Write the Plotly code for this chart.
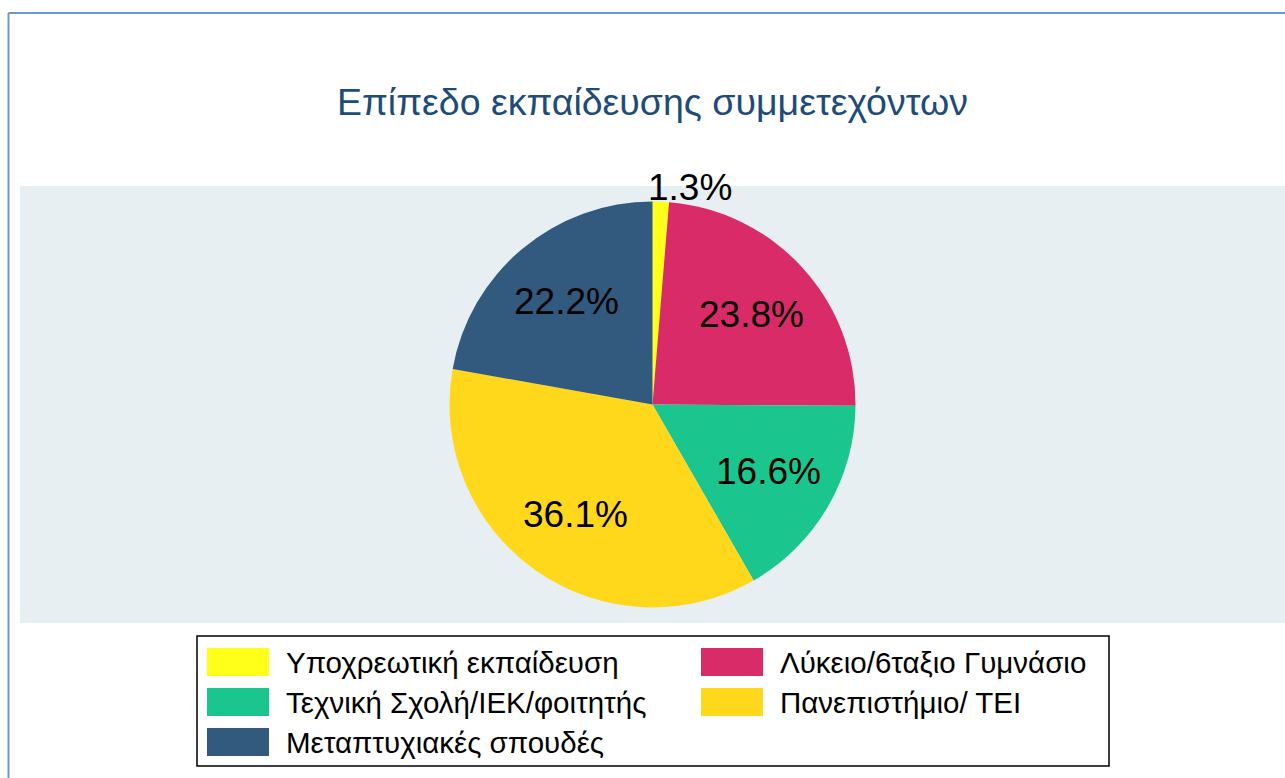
import math
import plotly.graph_objects as go

# ---- data ----
labels = ["Υποχρεωτική εκπαίδευση", "Λύκειο/6ταξιο Γυμνάσιο",
          "Τεχνική Σχολή/ΙΕΚ/φοιτητής", "Πανεπιστήμιο/ ΤΕΙ",
          "Μεταπτυχιακές σπουδές"]
values = [1.3, 23.8, 16.6, 36.1, 22.2]
colors = ["#FFFF1A", "#D92B68", "#1BC68E", "#FFD81C", "#32597E"]
title_text = "Επίπεδο εκπαίδευσης συμμετεχόντων"

W, H = 1285, 778
ML, MR, MT, MB = 20, 0, 186, 155
PW, PH = W - ML - MR, H - MT - MB

def px(x):
    return (x - ML) / PW

def py(y):
    return (H - MB - y) / PH

FONT = "Liberation Sans, Arial, sans-serif"

r_px = 203
pad = (PH / 2 - r_px) / PH
cx_px, cy_px = ML + PW / 2, MT + PH / 2

fig = go.Figure(go.Pie(
    labels=labels, values=values, sort=False, direction="clockwise",
    rotation=0,
    marker=dict(colors=colors, line=dict(width=0)),
    textinfo="none",
    showlegend=False, hoverinfo="label+percent",
    domain=dict(x=[0, 1], y=[pad, 1 - pad]),
))

shapes = []
# plot-region band
shapes.append(dict(type="rect", xref="paper", yref="paper", x0=0, x1=1, y0=0, y1=1,
                   fillcolor="#E8EFF2", line=dict(width=0), layer="below"))
# outer frame (left and top edges)
shapes.append(dict(type="line", xref="paper", yref="paper", x0=px(8.5), x1=px(8.5),
                   y0=py(13), y1=py(790), line=dict(color="#6F98D2", width=2)))
shapes.append(dict(type="line", xref="paper", yref="paper", x0=px(8.5), x1=px(1300),
                   y0=py(13), y1=py(13), line=dict(color="#6F98D2", width=2)))
# legend box
shapes.append(dict(type="rect", xref="paper", yref="paper", x0=px(197), x1=px(1109),
                   y0=py(636), y1=py(766), line=dict(color="black", width=1.5),
                   fillcolor="white"))

annotations = []
# slice value labels, placed along each slice's mid-angle
total = sum(values)
cum = 0.0
for v in values:
    mid = (cum + v / 2) / total * 2 * math.pi
    cum += v
    frac = v / total
    if frac < 0.05:
        rr = r_px * 1.07
        xa, xs = "left", -15
    else:
        rr = r_px * 0.66
        xa, xs = "center", 0
    lx = cx_px + rr * math.sin(mid)
    ly = cy_px - rr * math.cos(mid)
    annotations.append(dict(text=f"{v:.1f}%", xref="paper", yref="paper",
                            x=px(lx), y=py(ly), xanchor=xa, yanchor="middle", xshift=xs,
                            showarrow=False,
                            font=dict(family=FONT, size=37, color="black")))

# custom legend
col_x = [207, 701]
row_y = [648, 688, 728]
for i, (lab, col) in enumerate(zip(labels, colors)):
    c, r = i % 2, i // 2
    x0 = col_x[c]
    y0 = row_y[r]
    shapes.append(dict(type="rect", xref="paper", yref="paper", x0=px(x0), x1=px(x0 + 62),
                       y0=py(y0), y1=py(y0 + 28), fillcolor=col, line=dict(width=0)))
    annotations.append(dict(text=lab, xref="paper", yref="paper", x=px(x0 + 77),
                            y=py(y0 + 14), xanchor="left", yanchor="middle",
                            showarrow=False,
                            font=dict(family=FONT, size=29.5, color="black")))

fig.update_layout(
    width=W, height=H,
    margin=dict(l=ML, r=MR, t=MT, b=MB, autoexpand=False),
    paper_bgcolor="white",
    title=dict(text=title_text, x=0.5, xref="paper", y=1 - 102 / H, yanchor="middle",
               font=dict(family=FONT, size=37.5, color="#1E4B78")),
    shapes=shapes, annotations=annotations,
)

fig.write_html("out.html", config={"displayModeBar": False},
               post_script="document.body.style.margin='0';")
